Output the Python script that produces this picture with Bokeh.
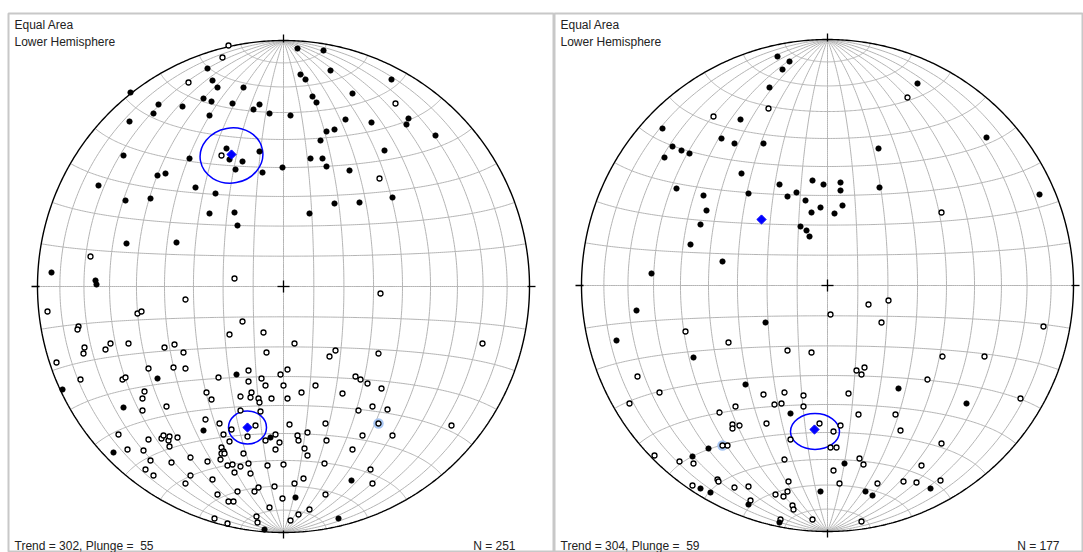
import numpy as np
from bokeh.plotting import figure
from bokeh.layouts import row
from bokeh.models import Label
from bokeh.embed import file_html
from bokeh.resources import INLINE

# ---------------- data (equal-area projected positions, east / north, primitive radius = NET_R) -------------
NET_R = 246

left_trend, left_plunge, left_count = 302, 55, 251
right_trend, right_plunge, right_count = 304, 59, 177

left_lower = [(-153, 194), (-125, 182), (-101, 180), (-130, 173), (-80, 188), (-72, 185), (-76, 218), (-71, 206),
              (-66, 199), (-40, 199), (-51, 183), (-24, 182), (-30, 177), (-14, 173), (-74, 171), (7, 171), (14, 238),
              (40, 236), (17, 212), (22, 207), (47, 216), (29, 190), (33, 184), (69, 193), (108, 207), (88, 164),
              (125, 168), (123, 162), (152, 151), (62, 167), (51, 157), (43, 155), (-154, 165), (-160, 131),
              (-94, 128), (-57, 138), (-54, 127), (-41, 125), (-24, 135), (-48, 117), (-21, 114), (-1, 119),
              (-88, 99), (-68, 93), (-126, 111), (-118, 113), (-185, 101), (-158, 86), (-133, 88), (-49, 74),
              (-46, 61), (-74, 73), (-157, 43), (-107, 44), (26, 73), (27, 128), (39, 128), (43, 120), (37, 146),
              (66, 116), (76, 84), (51, 83), (101, 136), (109, 89), (-232, 14), (-188, 6), (-187, 2),
              (-47, -88), (-126, -92), (-221, -103), (-160, -121), (-80, -144), (-13, -151), (-170, -166),
              (12, -211), (-19, -243), (55, -232), (68, -194)]

left_upper = [(-55, 241), (-61, 229), (-95, 204), (112, 183), (-62, 131), (96, 108), (-193, 30), (-49, 8), (97, -7),
              (46, -70), (52, -64), (72, -90), (77, -93), (84, -97), (95, -67), (98, -102), (59, -107), (104, -123),
              (75, -124), (89, -120), (79, -149), (109, -149), (168, -139), (199, -57), (32, -99), (42, -137),
              (43, -154), (69, -163), (41, -177), (87, -183), (89, -197), (42, -208), (26, -223), (95, -137),
              (-98, -13), (-236, -25), (-146, -27), (-142, -25), (-41, -35), (-205, -40), (-206, -43), (-54, -48),
              (-20, -46), (11, -57), (-199, -61), (-200, -67), (-173, -57), (-178, -63), (-155, -57), (-119, -61),
              (-109, -58), (-100, -66), (-17, -66), (-227, -76), (-135, -82), (-110, -81), (-98, -82), (-203, -93),
              (-161, -93), (-158, -91), (-65, -91), (-35, -84), (-35, -95), (-22, -92), (-18, -99), (-3, -88),
              (4, -83), (0, -99), (18, -106), (-139, -105), (-141, -112), (-141, -124), (-117, -120), (-77, -106),
              (-72, -113), (-43, -110), (-32, -106), (-33, -111), (-25, -112), (-24, -116), (-12, -112), (4, -112),
              (-43, -124), (-23, -125), (-78, -133), (-64, -137), (-28, -139), (6, -138), (-60, -148), (-52, -143),
              (-36, -150), (-165, -148), (-135, -153), (-122, -152), (-120, -149), (-115, -154), (-114, -150),
              (-106, -151), (-114, -160), (-156, -163), (-140, -164), (-54, -155), (-18, -154), (-8, -148),
              (-4, -156), (-8, -163), (14, -149), (15, -154), (24, -146), (21, -162), (24, -169), (-62, -161),
              (-60, -165), (-62, -167), (-59, -167), (-63, -173), (-40, -167), (-93, -171), (-76, -175), (-133, -174),
              (-112, -176), (-138, -183), (-130, -189), (-56, -179), (-51, -178), (-49, -186), (-43, -180),
              (-35, -177), (-33, -187), (-16, -179), (0, -178), (20, -192), (-93, -189), (-98, -197), (-71, -193),
              (-66, -208), (-46, -205), (-29, -205), (-25, -201), (-9, -200), (11, -197), (-55, -215), (-50, -215),
              (-14, -221), (-1, -212), (15, -228), (7, -234), (-27, -230), (-26, -236), (-69, -232), (-56, -237)]

left_selected = [(95, -137)]
left_means = [(-52, 132), (-36, -141)]
left_cones = [(-52, 131, 63, 55, 10), (-36, -141, 38, 33, 0)]   # centre e, n, width, height, angle (deg)

right_lower = [(-50, 229), (-38, 224), (-45, 216), (-58, 198), (-87, 166), (-165, 157), (-155, 139), (-146, 135),
               (-138, 132), (-163, 128), (-106, 147), (-93, 142), (-64, 142), (-86, 112), (-79, 92), (-151, 97),
               (-124, 90), (-121, 75), (-48, 101), (-31, 93), (-40, 89), (-15, 105), (-4, 101), (13, 103), (13, 95),
               (-22, 85), (-16, 73), (-7, 78), (7, 72), (15, 80), (-27, 59), (-21, 55), (-18, 49), (51, 137),
               (52, 98), (90, 202), (159, 148), (212, 91), (-127, 61), (-137, 41), (-105, 24), (-176, 12),
               (-191, -25), (-211, -55), (-134, -72), (-62, -37), (-82, -99), (71, -103), (139, -118),
               (-119, -163), (-135, -171), (-127, -203), (-117, -207), (-79, -219), (-48, -237), (-7, -206),
               (38, -206), (45, -210), (103, -203), (17, -178), (-37, -128)]

right_upper = [(-59, 177), (-114, 169), (80, 188), (114, 73), (3, -29), (41, -19), (61, -15), (54, -37),
               (216, -41), (115, -71), (157, -71), (29, -85), (37, -82), (34, -89), (100, -94), (-16, -67),
               (-40, -65), (-142, -46), (-190, -91), (-168, -107), (-198, -118), (193, -113), (-92, -121),
               (-53, -119), (-64, -109), (-43, -107), (-24, -110), (-46, -118), (-24, -121), (31, -129), (-8, -138),
               (13, -140), (6, -146), (-37, -154), (3, -162), (9, -162), (32, -173), (36, -179), (-43, -174),
               (6, -185), (-61, -138), (-88, -140), (-108, -127), (-100, -160), (-134, -178), (-95, -139),
               (-95, -143), (-110, -194), (73, -145), (114, -158), (68, -129), (94, -180), (-173, -170),
               (-148, -176), (-135, -200), (-109, -196), (-93, -202), (-79, -201), (-39, -196), (-52, -209),
               (-44, -211), (-40, -206), (-77, -215), (-35, -220), (-34, -224), (-47, -234), (-15, -234),
               (12, -198), (50, -198), (76, -196), (89, -197), (113, -195), (34, -236), (-99, -57), (21, -108),
               (-105, -160)]

right_selected = [(-105, -160)]
right_means = [(-66, 66), (-13, -144)]
right_cones = [(-12.5, -146, 49, 36, 0)]


# ---------------- helpers -------------------------------------------------------------------------------
def net_lines(R):
    xs, ys = [], []
    t = np.radians(np.linspace(-90, 90, 241))
    for lon in range(-80, 90, 10):
        L = np.radians(lon)
        d = np.sqrt(1 + np.cos(t) * np.cos(L))
        xs.append(R * np.cos(t) * np.sin(L) / d)
        ys.append(R * np.sin(t) / d)
    for lat in range(-80, 90, 10):
        P = np.radians(lat)
        d = np.sqrt(1 + np.cos(P) * np.cos(t))
        xs.append(R * np.cos(P) * np.sin(t) / d)
        ys.append(R * np.sin(P) / d)
    return xs, ys


FONT = "Liberation Sans"


def panel(width, left_pad, xr, yr, lower, upper, selected, means, cones, trend, plunge, count):
    p = figure(width=width, height=552, x_range=xr, y_range=yr, output_backend="svg",
               toolbar_location=None, x_axis_location=None, y_axis_location=None,
               min_border_left=left_pad, min_border_right=0, min_border_top=13, min_border_bottom=0,
               border_fill_color="white")
    p.xgrid.visible = False
    p.ygrid.visible = False
    p.outline_line_color = "#c8c8c8"
    p.outline_line_width = 2
    p.background_fill_color = "white"

    R = NET_R
    gx, gy = net_lines(R)
    p.multi_line(gx, gy, line_color="#b4b4b4", line_width=1)

    th = np.linspace(0, 2 * np.pi, 721)
    p.line(R * np.cos(th), R * np.sin(th), line_color="black", line_width=1.4)

    tk = [([0, 0], [R - 2, R + 6]), ([0, 0], [-R + 2, -R - 6]),
          ([R - 2, R + 6], [0, 0]), ([-R + 2, -R - 6], [0, 0]),
          ([-6, 6], [0, 0]), ([0, 0], [-6, 6])]
    p.multi_line([a for a, b in tk], [b for a, b in tk], line_color="black", line_width=1.3)

    for (cx, cy, w, h, ang) in cones:
        p.ellipse(x=[cx], y=[cy], width=[w], height=[h], angle=[np.radians(ang)],
                  fill_color=None, line_color="#0000ff", line_width=1.5)

    if selected:
        p.scatter([a for a, b in selected], [b for a, b in selected], size=10.5, marker="circle",
                  fill_color="#9ec0f2", fill_alpha=0.9, line_color=None)

    p.scatter([a for a, b in upper], [b for a, b in upper], size=5, marker="circle",
              fill_color="white", line_color="black", line_width=1.3)
    p.scatter([a for a, b in lower], [b for a, b in lower], size=5.5, marker="circle",
              fill_color="black", line_color="black", line_width=0.6)

    p.scatter([a for a, b in means], [b for a, b in means], size=6.5, marker="square", angle=np.pi / 4,
              fill_color="#0000ff", line_color="#0000ff", line_width=1)

    x0, y1 = xr[0], yr[1]
    p.add_layout(Label(x=x0 + 6, y=y1 - 4, text="Equal Area", text_font=FONT, text_font_size="12px",
                       text_baseline="top", text_color="#222222"))
    p.add_layout(Label(x=x0 + 6, y=y1 - 21, text="Lower Hemisphere", text_font=FONT, text_font_size="12px",
                       text_baseline="top", text_color="#222222"))
    p.add_layout(Label(x=x0 + 6, y=yr[0] + 7, text="Trend = %d, Plunge = \u00a0%d" % (trend, plunge),
                       text_font=FONT, text_font_size="12px", text_baseline="middle", text_color="#222222"))
    p.add_layout(Label(x=232, y=yr[0] + 7, text="N = %d" % count, text_font=FONT,
                       text_font_size="12px", text_baseline="middle", text_align="right", text_color="#222222"))
    return p


p1 = panel(554, 8, (-275, 271), (-266, 273), left_lower, left_upper, left_selected, left_means, left_cones,
           left_trend, left_plunge, left_count)
p2 = panel(529, 0, (-273, 256), (-267, 272), right_lower, right_upper, right_selected, right_means, right_cones,
           right_trend, right_plunge, right_count)

layout = row(p1, p2)
open("out.html", "w").write(file_html(layout, INLINE))
